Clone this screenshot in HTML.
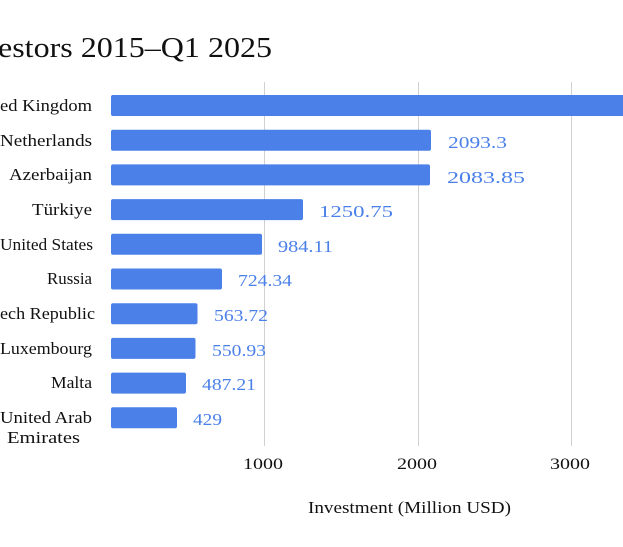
<!DOCTYPE html>
<html><head><meta charset="utf-8"><style>
html,body{margin:0;padding:0;background:#fff;width:623px;height:547px;overflow:hidden}
svg{display:block}
text{font-family:"Liberation Serif",serif}
</style></head><body>
<svg width="623" height="547" viewBox="0 0 623 547" xmlns="http://www.w3.org/2000/svg">
<text x="-2" y="57" font-size="28" fill="#111" textLength="274" lengthAdjust="spacingAndGlyphs">estors 2015–Q1 2025</text>
<g stroke="#d0d0d0" stroke-width="1">
<line x1="264.5" y1="82" x2="264.5" y2="446"/>
<line x1="418.5" y1="82" x2="418.5" y2="446"/>
<line x1="571.5" y1="82" x2="571.5" y2="446"/>
</g>
<g fill="#4a80e8">
<rect x="111" y="95" width="530" height="21" rx="2"/>
<rect x="111" y="129.7" width="320" height="21" rx="2"/>
<rect x="111" y="164.4" width="319" height="21" rx="2"/>
<rect x="111" y="199.1" width="192" height="21" rx="2"/>
<rect x="111" y="233.8" width="151" height="21" rx="2"/>
<rect x="111" y="268.5" width="111" height="21" rx="2"/>
<rect x="111" y="303.2" width="86.5" height="21" rx="2"/>
<rect x="111" y="337.9" width="84.5" height="21" rx="2"/>
<rect x="111" y="372.6" width="75" height="21" rx="2"/>
<rect x="111" y="407.3" width="66" height="21" rx="2"/>
</g>
<g font-size="17" fill="#111" lengthAdjust="spacingAndGlyphs">
<text x="0" y="111" textLength="92" lengthAdjust="spacingAndGlyphs">ed Kingdom</text>
<text x="0" y="146" textLength="92" lengthAdjust="spacingAndGlyphs">Netherlands</text>
<text x="9" y="180" textLength="83" lengthAdjust="spacingAndGlyphs">Azerbaijan</text>
<text x="32" y="215" textLength="60" lengthAdjust="spacingAndGlyphs">Türkiye</text>
<text x="0" y="250" textLength="93" lengthAdjust="spacingAndGlyphs">United States</text>
<text x="47" y="284" textLength="45" lengthAdjust="spacingAndGlyphs">Russia</text>
<text x="0" y="319" textLength="95" lengthAdjust="spacingAndGlyphs">ech Republic</text>
<text x="0" y="354" textLength="92" lengthAdjust="spacingAndGlyphs">Luxembourg</text>
<text x="51" y="388" textLength="41" lengthAdjust="spacingAndGlyphs">Malta</text>
<text x="0" y="423" textLength="92" lengthAdjust="spacingAndGlyphs">United Arab</text>
<text x="7" y="443" textLength="73" lengthAdjust="spacingAndGlyphs">Emirates</text>
</g>
<g font-size="17" fill="#4a80e8">
<text x="448" y="148" textLength="59" lengthAdjust="spacingAndGlyphs">2093.3</text>
<text x="447" y="183" textLength="78" lengthAdjust="spacingAndGlyphs">2083.85</text>
<text x="319" y="217" textLength="74" lengthAdjust="spacingAndGlyphs">1250.75</text>
<text x="278" y="252" textLength="55" lengthAdjust="spacingAndGlyphs">984.11</text>
<text x="238" y="286" textLength="54" lengthAdjust="spacingAndGlyphs">724.34</text>
<text x="214" y="321" textLength="54" lengthAdjust="spacingAndGlyphs">563.72</text>
<text x="212" y="356" textLength="54" lengthAdjust="spacingAndGlyphs">550.93</text>
<text x="202" y="390" textLength="54" lengthAdjust="spacingAndGlyphs">487.21</text>
<text x="193" y="425" textLength="29" lengthAdjust="spacingAndGlyphs">429</text>
</g>
<g font-size="16" fill="#111">
<text x="243" y="469" textLength="40" lengthAdjust="spacingAndGlyphs">1000</text>
<text x="397" y="469" textLength="40" lengthAdjust="spacingAndGlyphs">2000</text>
<text x="550" y="469" textLength="40" lengthAdjust="spacingAndGlyphs">3000</text>
</g>
<text x="308" y="513" font-size="17" fill="#111" textLength="203" lengthAdjust="spacingAndGlyphs">Investment (Million USD)</text>
</svg>
</body></html>
